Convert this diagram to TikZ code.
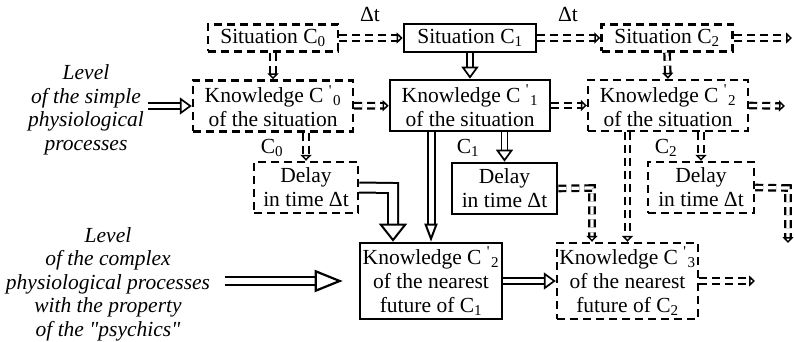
\documentclass[tikz,border=0pt]{standalone}
\usepackage{fontspec}
\setmainfont{Liberation Serif}[Ligatures=TeXOff]
\usetikzlibrary{arrows.meta}
\newcommand\kc[1]{C\hspace{0.25em}\textsuperscript{'}\kern0.05em\textsubscript{#1}}
\begin{document}
\begin{tikzpicture}[x=1pt,y=-1pt,
  txt/.style={font=\fontsize{21.5}{24}\selectfont, inner sep=0pt, align=center},
  solidbox/.style={txt, draw, line width=2.6pt},
  dashbox/.style={txt, draw, line width=2.4pt, dash pattern=on 8pt off 5pt},
  lvl/.style={font=\fontsize{21.5}{23.5}\selectfont\itshape, inner sep=0pt, align=center},
  hol/.style={line width=1.7pt, double, double distance=4.5pt,
    -{Triangle[open,length=12pt,width=17pt,line width=1.7pt]}},
  lhol/.style={line width=2.4pt, double, double distance=6pt,
    -{Triangle[open,length=28pt,width=22pt,line width=2.2pt]}},
  dhol/.style={line width=2.2pt, double, double distance=3.2pt, dash pattern=on 8pt off 5pt,
    -{Triangle[open,length=6pt,width=11pt,line width=1.6pt]}},
  bighol/.style={line width=2pt, double, double distance=8pt,
    -{Triangle[open,length=18pt,width=28pt,line width=2pt]}},
  narhol/.style={line width=2pt, double, double distance=5pt,
    -{Triangle[open,length=18pt,width=13pt,line width=2pt]}},
]
\useasboundingbox (0,0) rectangle (795,342);
% situations
\node[dashbox, minimum width=130pt, minimum height=27pt] (s0) at (273,38) {Situation C\textsubscript{0}};
\node[solidbox, minimum width=132pt, minimum height=28pt] (s1) at (470,38) {Situation C\textsubscript{1}};
\node[dashbox, minimum width=131pt, minimum height=27pt] (s2) at (667,38) {Situation C\textsubscript{2}};
% knowledge
\node[dashbox, minimum width=160pt, minimum height=51pt] (k0) at (273,106) {Knowledge \kc{0}\\of the situation};
\node[solidbox, minimum width=160pt, minimum height=51pt] (k1) at (470,105.5) {Knowledge \kc{1}\\of the situation};
\node[dashbox, minimum width=160pt, minimum height=51pt] (k2) at (668,105.5) {Knowledge \kc{2}\\of the situation};
% delays
\node[dashbox, minimum width=104pt, minimum height=51pt] (d0) at (306,187.5) {Delay\\in time Δt};
\node[solidbox, minimum width=105pt, minimum height=51pt] (d1) at (504.5,188.5) {Delay\\in time Δt};
\node[dashbox, minimum width=106pt, minimum height=51pt] (d2) at (701,187.5) {Delay\\in time Δt};
% futures
\node[solidbox, minimum width=142pt, minimum height=76pt] (f1) at (431,281) {Knowledge \kc{2}\\of the nearest\\future of C\textsubscript{1}};
\node[dashbox, minimum width=141pt, minimum height=76pt] (f2) at (627.5,281) {Knowledge \kc{3}\\of the nearest\\future of C\textsubscript{2}};
% labels
\node[txt] (dt1) at (370,15) {Δt};
\node[txt] (dt2) at (568,15) {Δt};
\node[txt] (c0) at (272,148) {C\textsubscript{0}};
\node[txt] (c1) at (468,148) {C\textsubscript{1}};
\node[txt] (c2) at (666,148) {C\textsubscript{2}};
\node[lvl] (lv1) at (86,110) {Level\\of the simple\\physiological\\processes};
\node[lvl] (lv2) at (108,284) {Level\\of the complex\\physiological processes\\with the property\\of the "psychics"};
% free ends
\coordinate (a1) at (148,106);
\coordinate (a2) at (225,281);
\coordinate (e1) at (792,38);
\coordinate (e2) at (785,106);
\coordinate (e3) at (755,281);
\coordinate (e4) at (788,243);
\coordinate (b1) at (393,188);
\coordinate (b2) at (592,188);
\coordinate (b3) at (788,188);
% arrows
\draw[hol] (a1) -- (k0.west);
\draw[lhol] (a2) -- ([xshift=-16pt]f1.west);
\draw[dhol] (s0) -- (s1);
\draw[dhol] (s1) -- (s2);
\draw[dhol] (s2) -- (e1);
\draw[dhol] (s0) -- (k0);
\draw[hol] (s1) -- (k1);
\draw[dhol] (s2.south) -- (k2.north);
\draw[dhol] (k0) -- (k1);
\draw[dhol] (k1) -- (k2);
\draw[dhol] (k2.east) -- (e2);
\draw[dhol] (k0.south -| d0) -- (d0.north);
\draw[hol] (k1.south -| d1) -- (d1.north);
\draw[dhol] (k2.south -| d2) -- (d2.north);
\draw[bighol] (d0.east) -- (b1) -- (b1 |- f1.north);
\draw[narhol] (k1.south -| f1) -- (f1.north);
\draw[dhol] (d1.east) -- (b2) -- (b2 |- f2.north);
\draw[dhol] (k2.south -| f2) -- (f2.north);
\draw[dhol] (d2.east) -- (b3) -- (e4);
\draw[hol] (f1) -- (f2);
\draw[dhol] (f2.east) -- (e3);
\end{tikzpicture}
\end{document}
